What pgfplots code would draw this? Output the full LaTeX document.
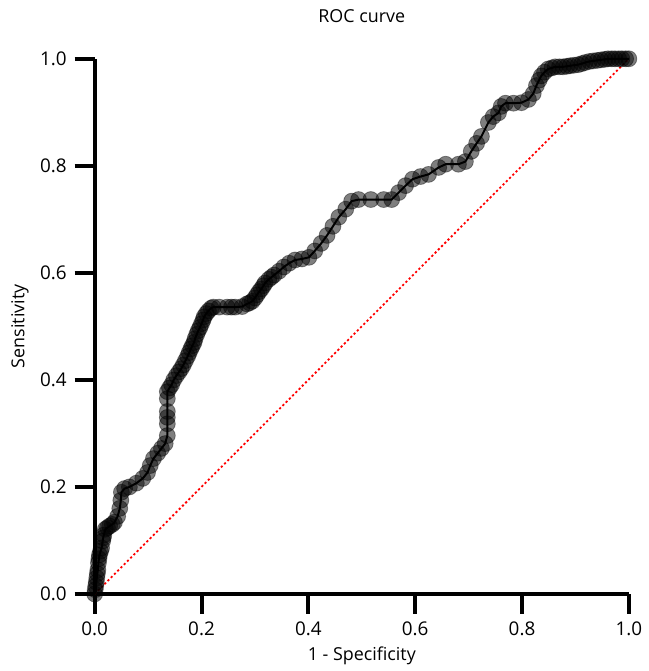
\documentclass[border=0pt]{standalone}
\usepackage{fontspec}
\setmainfont{Open Sans}
\usepackage{pgfplots}
\usepackage{pgfplotstable}
\pgfplotsset{compat=1.18}

\pgfplotstableread{
x y
0.000 0.000
0.001 0.008
0.002 0.015
0.003 0.022
0.004 0.030
0.005 0.038
0.006 0.045
0.007 0.058
0.008 0.066
0.009 0.073
0.011 0.080
0.013 0.086
0.015 0.099
0.016 0.105
0.017 0.110
0.020 0.121
0.024 0.124
0.028 0.127
0.033 0.130
0.037 0.134
0.043 0.145
0.047 0.160
0.049 0.175
0.050 0.190
0.056 0.197
0.065 0.200
0.078 0.207
0.090 0.216
0.099 0.227
0.104 0.240
0.110 0.253
0.118 0.263
0.125 0.272
0.132 0.281
0.136 0.296
0.136 0.318
0.136 0.330
0.136 0.341
0.136 0.365
0.136 0.378
0.140 0.385
0.144 0.391
0.148 0.400
0.153 0.408
0.158 0.415
0.162 0.421
0.166 0.428
0.170 0.436
0.174 0.444
0.177 0.451
0.180 0.458
0.183 0.464
0.186 0.470
0.188 0.477
0.191 0.485
0.194 0.492
0.197 0.498
0.200 0.505
0.203 0.512
0.205 0.518
0.209 0.524
0.213 0.529
0.218 0.534
0.222 0.536
0.233 0.536
0.248 0.536
0.256 0.536
0.263 0.536
0.276 0.537
0.285 0.542
0.290 0.544
0.295 0.547
0.300 0.553
0.304 0.559
0.308 0.565
0.312 0.570
0.316 0.576
0.319 0.581
0.326 0.588
0.331 0.592
0.336 0.596
0.345 0.603
0.354 0.611
0.364 0.618
0.375 0.624
0.388 0.626
0.401 0.629
0.412 0.641
0.424 0.655
0.435 0.670
0.446 0.687
0.457 0.704
0.470 0.719
0.481 0.734
0.494 0.737
0.517 0.737
0.541 0.737
0.556 0.737
0.569 0.750
0.582 0.763
0.595 0.775
0.610 0.780
0.625 0.784
0.644 0.797
0.657 0.803
0.681 0.803
0.694 0.808
0.705 0.827
0.715 0.842
0.724 0.855
0.737 0.881
0.746 0.892
0.756 0.899
0.761 0.911
0.769 0.917
0.784 0.917
0.799 0.918
0.812 0.924
0.821 0.935
0.827 0.950
0.832 0.960
0.836 0.968
0.842 0.975
0.849 0.981
0.856 0.983
0.862 0.985
0.870 0.985
0.877 0.985
0.884 0.986
0.890 0.987
0.897 0.988
0.905 0.989
0.912 0.991
0.918 0.993
0.926 0.995
0.933 0.996
0.941 0.997
0.948 0.998
0.955 0.999
0.961 1.000
0.968 1.000
0.974 1.000
0.981 1.000
0.987 1.000
0.994 1.000
1.000 1.000
}\roc

\begin{document}
\fontsize{18}{21}\selectfont
\begin{tikzpicture}
  \begin{axis}[
      scale only axis,
      width=536bp, height=537bp,
      xmin=0, xmax=1, ymin=0, ymax=1,
      axis lines=left,
      axis line style={-, line width=4bp},
      tick style={black, line width=4bp},
      major tick length=20bp,
      tick align=outside,
      xtick={0,0.2,0.4,0.6,0.8,1},
      ytick={0,0.2,0.4,0.6,0.8,1},
      /pgf/number format/.cd, fixed, fixed zerofill, precision=1, assume math mode=true,
      /pgfplots/.cd,
      ticklabel style={font=\fontsize{19}{21}\selectfont},
      xticklabel style={yshift=-2bp},
      yticklabel style={xshift=-2bp},
      title={ROC curve},
      title style={at={(axis description cs:0.5,1)}, anchor=base, yshift=30bp},
      xlabel={1 - Specificity},
      xlabel style={at={(axis description cs:0.5,0)}, anchor=base, yshift=-67bp},
      ylabel={Sensitivity},
      ylabel style={at={(axis description cs:0,0.5)}, anchor=center, yshift=75bp},
      clip=false,
    ]
    \addplot[red, line width=1.8bp, dash pattern=on 2.2bp off 2.4bp] coordinates {(0,0) (1,1)};
    \addplot[only marks, mark=*, mark size=8bp,
      mark options={fill=black, fill opacity=0.5, draw=black, draw opacity=0.4, line width=0.8bp}]
      table[x=x, y=y] {\roc};
    \addplot[black, line width=2bp, no marks] table[x=x, y=y] {\roc};
    \path (rel axis cs:0,0) ++(-95bp,-75bp) coordinate (bl);
    \path (rel axis cs:1,1) ++(12bp,59bp) coordinate (tr);
    \path (bl) rectangle (tr);
  \end{axis}
\end{tikzpicture}
\end{document}
